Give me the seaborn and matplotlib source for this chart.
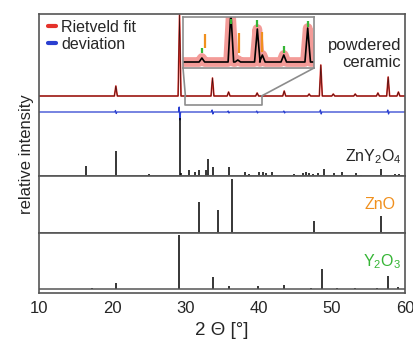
#!/usr/bin/env python3
"""
XRD pattern: Rietveld fit of the powdered ceramic + reference stick patterns.
"""
import numpy as np
import pandas as pd
import seaborn as sns
import matplotlib.pyplot as plt
from matplotlib.lines import Line2D
from matplotlib.patches import ConnectionPatch

# measured pattern (peak position 2theta, height)
fit_pos = [20.5, 29.2, 33.7, 35.9, 39.8, 43.5, 46.9, 48.5, 50.2, 53.2, 56.3, 57.7, 59.1]
fit_int = [10, 81, 18, 4, 3, 5, 2, 31, 2, 2, 3, 19, 4]

# deviation (obs - calc) spikes
dev_pos = [20.5, 29.2, 33.7, 35.9, 39.8, 43.5, 48.5, 57.7]
dev_up = [1.5, 5, 2, 1, 1, 1, 2, 2]
dev_down = [1.5, 8, 2, 1, 1, 1, 2, 2]

# zoomed region 30 - 40.4
zoom_pos = [31.5, 33.8, 34.35, 35.9, 36.3, 38.0, 39.9]
zoom_int = [4, 50, 2, 33, 7, 7, 34]
zoom_green = [31.5, 33.8, 35.9, 38.0, 39.9]
zoom_green_lo = [9, 38, 35, 9, 35]
zoom_green_hi = [14, 43, 42, 16, 41]
zoom_orange = [31.75, 34.45, 36.3]
zoom_orange_lo = [14, 9, 10]
zoom_orange_hi = [28, 29, 30]

# reference patterns
zny2o4_pos = [16.4, 20.5, 25.0, 29.2, 29.35, 30.5, 31.25, 31.8, 32.85, 33.1, 33.8, 35.9,
              38.2, 38.7, 40.1, 40.55, 41.0, 41.8, 44.8, 46.0, 46.5, 46.9, 47.4, 48.05,
              49.0, 50.3, 51.4, 53.3, 54.0, 56.7, 58.7, 59.2, 59.6]
zny2o4_int = [10, 25, 2, 58, 3, 6, 4, 6, 6, 17, 9, 9,
              4, 2, 4, 4, 3, 4, 2, 3, 4, 3, 2, 3,
              7, 3, 4, 3, 1, 7, 2, 2, 1]
zno_pos = [31.85, 34.5, 36.3, 47.6, 56.7]
zno_int = [31, 23, 54, 12, 17]
y2o3_pos = [17.2, 20.5, 29.15, 33.8, 36.0, 39.85, 43.5, 47.2, 48.6, 50.7, 53.2, 56.2, 57.7, 59.0]
y2o3_int = [1, 6, 54, 12, 3, 3, 4, 1, 20, 1, 1.5, 1.5, 13, 2]

xticks = [10, 20, 30, 40, 50, 60]

RED = "#e5322b"
BLUE = "#2a3fd0"
ORANGE = "#f0901e"
GREEN = "#35b535"
GREY = "#8c8c8c"
FRAME = "#555555"


def spikes(pos, hts, half, x0=10, x1=60):
    xs, ys = [x0], [0]
    for p, h in zip(pos, hts):
        xs += [p - half, p, p + half]
        ys += [0, h, 0]
    xs.append(x1)
    ys.append(0)
    return pd.DataFrame({"x": xs, "y": ys})


def dev_curve(pos, up, down):
    xs, ys = [10], [0]
    for p, u, d in zip(pos, up, down):
        xs += [p - 0.15, p - 0.05, p + 0.05, p + 0.15]
        ys += [0, u, -d, 0]
    xs.append(60)
    ys.append(0)
    return pd.DataFrame({"x": xs, "y": ys})


sns.set_style("white")
plt.rcParams["font.family"] = ["Liberation Sans", "DejaVu Sans"]
plt.rcParams["mathtext.fontset"] = "custom"
plt.rcParams["mathtext.rm"] = "Liberation Sans"

W, H = 414, 344
fig = plt.figure(figsize=(W / 100, H / 100), dpi=100)


def px_axes(x0, y0, x1, y1):
    # pixel box (top-left origin) -> figure axes
    return fig.add_axes([x0 / W, (H - y1) / H, (x1 - x0) / W, (y1 - y0) / H])


ax1 = px_axes(39, 14, 405, 176)
ax2 = px_axes(39, 176, 405, 233)
ax3 = px_axes(39, 233, 405, 293)

FIT_OFF = 80
DEV_OFF = 64

# top: fit + deviation + ZnY2O4
fit = spikes(fit_pos, fit_int, 0.2)
fit["y"] += FIT_OFF
sns.lineplot(data=fit, x="x", y="y", ax=ax1, color=RED, lw=1.2, sort=False, estimator=None)
sns.lineplot(data=fit, x="x", y="y", ax=ax1, color="#3a1010", lw=0.5, sort=False, estimator=None)
dev = dev_curve(dev_pos, dev_up, dev_down)
dev["y"] += DEV_OFF
sns.lineplot(data=dev, x="x", y="y", ax=ax1, color=BLUE, lw=0.9, sort=False, estimator=None)
ax1.vlines(zny2o4_pos, 0, zny2o4_int, color="black", lw=1.1)
ax1.set_ylim(0, 162)

ax2.vlines(zno_pos, 0, zno_int, color="black", lw=1.1)
ax2.set_ylim(0, 57)

ax3.vlines(y2o3_pos, 0, y2o3_int, color="black", lw=1.1)
ax3.axhline(0, color=FRAME, lw=1.1)
ax3.set_ylim(-4, 56)

for ax in (ax1, ax2, ax3):
    ax.set_xlim(10, 60)
    ax.set_yticks([])
    ax.set_xlabel("")
    ax.set_ylabel("")
    for s in ax.spines.values():
        s.set_color(FRAME)
        s.set_linewidth(1.2)
    ax.tick_params(axis="x", length=0)
for ax in (ax1, ax2):
    ax.set_xticks([])
ax3.set_xticks(xticks)
ax3.set_xticklabels([str(t) for t in xticks], fontsize=12)
ax3.tick_params(axis="x", pad=6)
ax3.set_xlabel("2 \u0398 [°]", fontsize=13.5, labelpad=4)
fig.text(27 / W, (H - 154) / H, "relative intensity", rotation=90,
         ha="center", va="center", fontsize=12)

# legend
handles = [Line2D([], [], color=RED, lw=3), Line2D([], [], color=BLUE, lw=3)]
ax1.legend(handles, ["Rietveld fit", "deviation"], loc="upper left", frameon=False,
           handlelength=0.55, handletextpad=0.3, labelspacing=0.15, fontsize=11.5,
           borderaxespad=0.1, borderpad=0.25, bbox_to_anchor=(0.008, 1.0))

ax1.text(0.99, 0.755, "powdered\nceramic", transform=ax1.transAxes, ha="right",
         va="center", fontsize=12, linespacing=1.15)
ax1.text(0.99, 0.117, r"ZnY$_\mathregular{2}$O$_\mathregular{4}$", transform=ax1.transAxes,
         ha="right", va="center", fontsize=11.5)
ax2.text(0.975, 0.5, "ZnO", transform=ax2.transAxes, ha="right", va="center",
         fontsize=11.5, color=ORANGE)
ax3.text(0.99, 0.53, r"Y$_\mathregular{2}$O$_\mathregular{3}$", transform=ax3.transAxes,
         ha="right", va="center", fontsize=11.5, color=GREEN)

# zoom bracket on the main pattern
BR = 71
ax1.plot([30.0, 30.0, 40.4, 40.4], [FIT_OFF, BR, BR, FIT_OFF], color=GREY, lw=1.2)

# inset
axi = px_axes(183, 17, 314, 68)
zoom = spikes(zoom_pos, zoom_int, 0.22, 30.0, 40.4)
sns.lineplot(data=zoom, x="x", y="y", ax=axi, color="#ea4a44", lw=7, alpha=0.55,
             sort=False, estimator=None)
sns.lineplot(data=zoom, x="x", y="y", ax=axi, color="black", lw=1.2,
             sort=False, estimator=None)
axi.vlines(zoom_green, zoom_green_lo, zoom_green_hi, color=GREEN, lw=1.6)
axi.vlines(zoom_orange, zoom_orange_lo, zoom_orange_hi, color=ORANGE, lw=1.6)
axi.set_xlim(30.0, 40.4)
axi.set_ylim(-6, 45)
axi.set_xticks([])
axi.set_yticks([])
axi.set_xlabel("")
axi.set_ylabel("")
axi.patch.set_alpha(0)
for s in axi.spines.values():
    s.set_color(GREY)
    s.set_linewidth(1.2)

for xa, xd in ((0, 30.0), (1, 40.4)):
    con = ConnectionPatch(xyA=(xa, 0), coordsA=axi.transAxes,
                          xyB=(xd, FIT_OFF), coordsB=ax1.transData,
                          color=GREY, lw=1.2)
    fig.add_artist(con)

fig.savefig("out.png", dpi=100)
